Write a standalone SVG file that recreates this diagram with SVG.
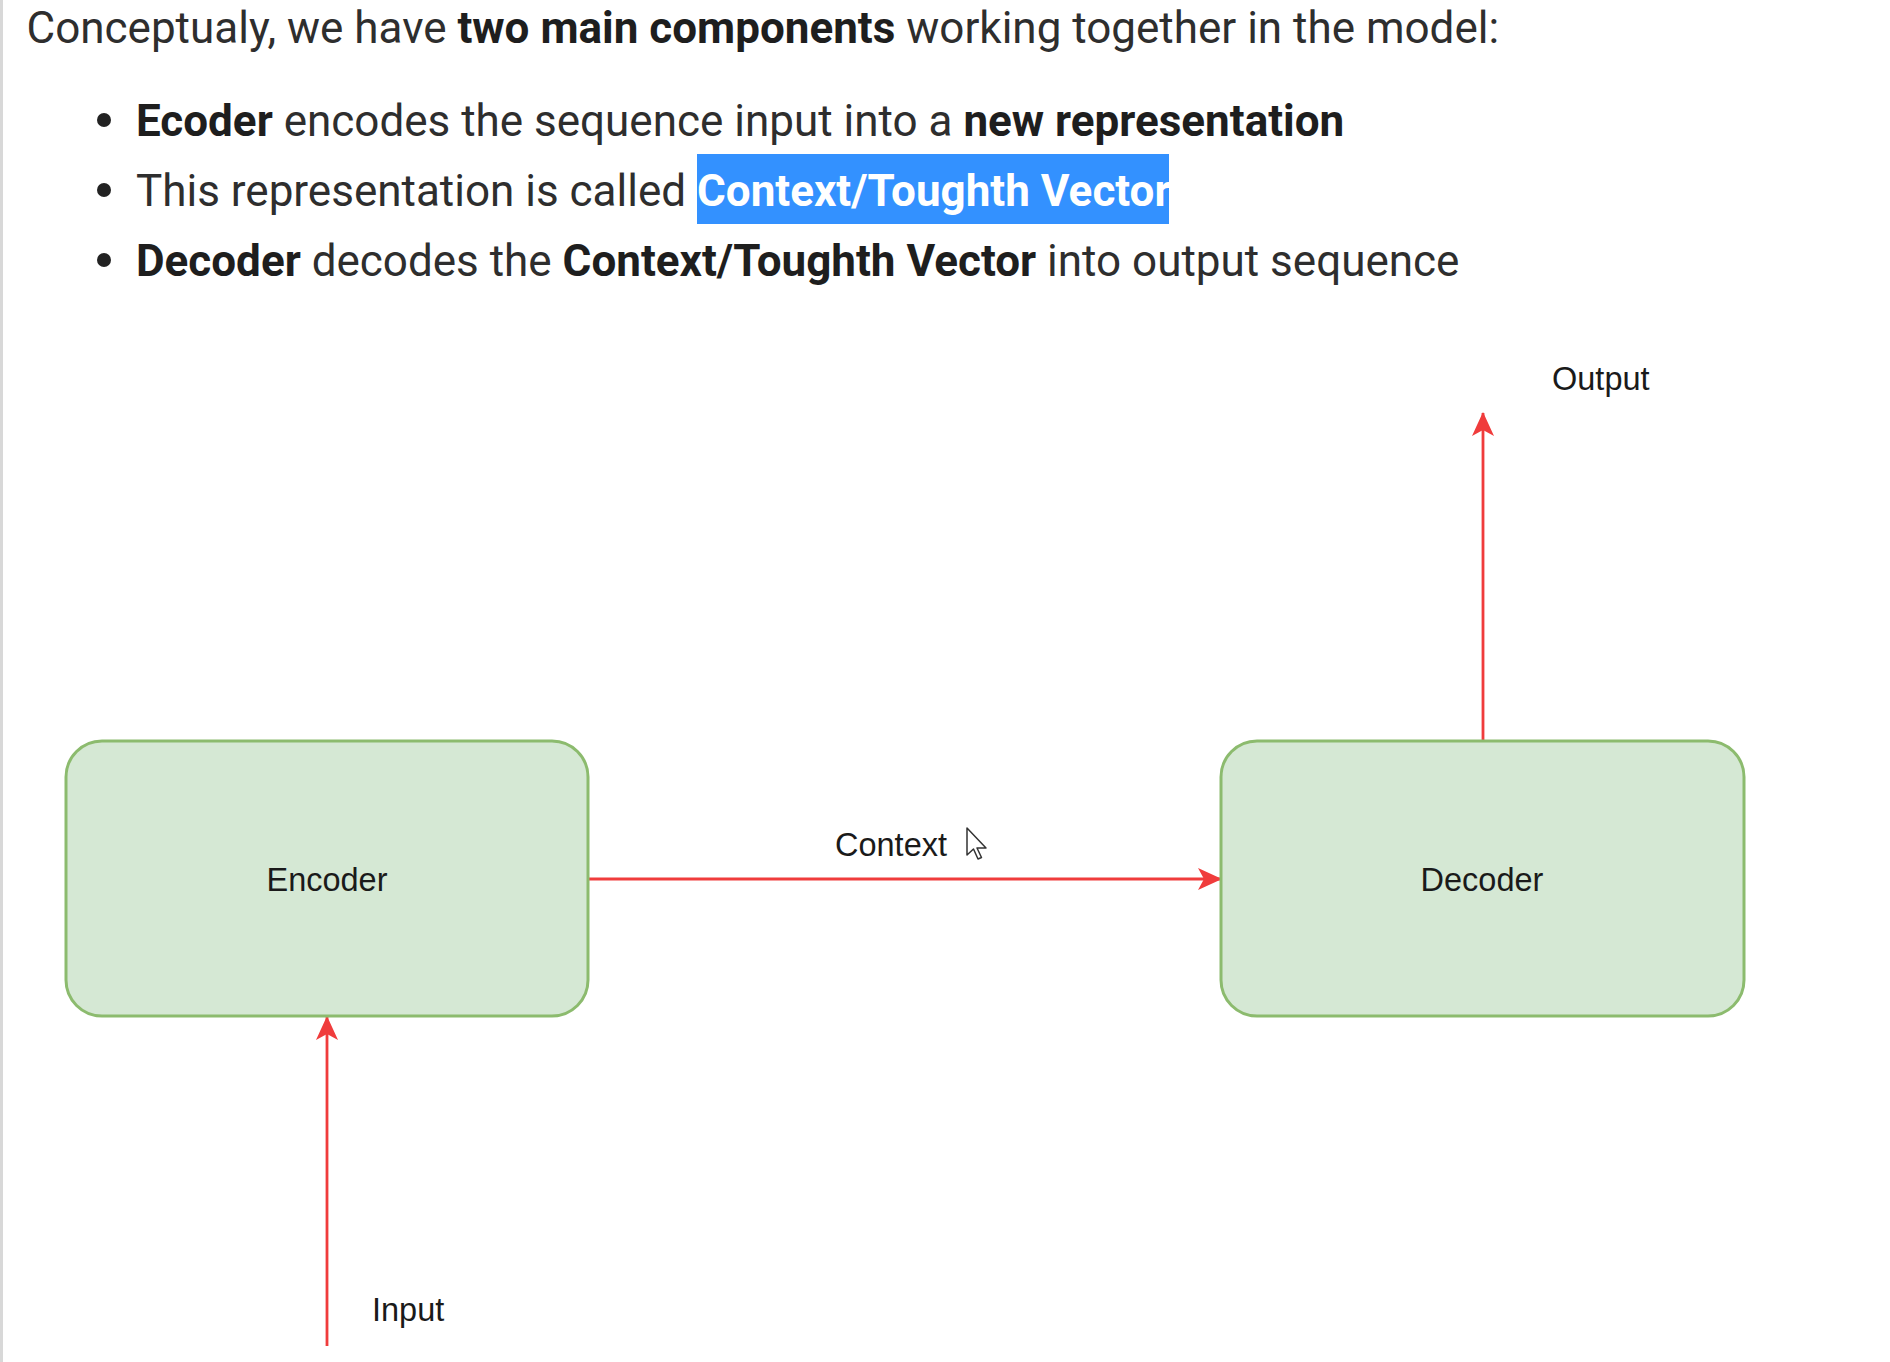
<svg xmlns="http://www.w3.org/2000/svg" width="1890" height="1362" viewBox="0 0 1890 1362">
<style>
.doc{font-family:Roboto,"Liberation Sans",sans-serif;font-size:44px;fill:#2e2e2e}
.b{font-weight:bold;fill:#1e1e1e}
.lbl{font-family:"Liberation Sans",Arial,sans-serif;font-size:32.5px;fill:#1a1a1a}
.box{fill:#d5e8d4;stroke:#8cbb6e;stroke-width:3}
.edge{stroke:#f03c3c;stroke-width:2.8;fill:none}
</style>
<defs>
<marker id="arr" viewBox="0 0 24 22" refX="23" refY="11" markerWidth="24" markerHeight="22" markerUnits="userSpaceOnUse" orient="auto">
<path d="M0,0 L24,11 L0,22 L6,11 Z" fill="#f03c3c"/>
</marker>
</defs>
<rect x="0" y="0" width="1890" height="1362" fill="#ffffff"/>
<line x1="1.5" y1="0" x2="1.5" y2="1362" stroke="#d8d8d8" stroke-width="3"/>
<g id="header">
<text class="doc" x="26.5" y="43">Conceptualy, we have <tspan class="b">two main components</tspan> working together in the model:</text>
<circle cx="104" cy="120" r="7" fill="#222"/>
<text class="doc" x="136" y="136"><tspan class="b">Ecoder</tspan> encodes the sequence input into a <tspan class="b">new representation</tspan></text>
<circle cx="104" cy="190" r="7" fill="#222"/>
<rect x="697" y="154" width="472" height="70" fill="#3391ff"/>
<text class="doc" x="136" y="206">This representation is called <tspan class="b" style="fill:#ffffff">Context/Toughth Vector</tspan></text>
<circle cx="104" cy="260" r="7" fill="#222"/>
<text class="doc" x="136" y="276"><tspan class="b">Decoder</tspan> decodes the <tspan class="b">Context/Toughth Vector</tspan> into output sequence</text>
</g>
<g id="connectors">
<line class="edge" x1="588" y1="879" x2="1221" y2="879" marker-end="url(#arr)"/>
<line class="edge" x1="1483" y1="741" x2="1483" y2="413" marker-end="url(#arr)"/>
<line class="edge" x1="327" y1="1346" x2="327" y2="1017" marker-end="url(#arr)"/>
<text class="lbl" x="891" y="856" text-anchor="middle">Context</text>
<text class="lbl" x="1552" y="390">Output</text>
<text class="lbl" x="372" y="1321">Input</text>
</g>
<g id="encoder">
<rect class="box" x="66" y="741" width="522" height="275" rx="36" ry="36"/>
<text class="lbl" x="327" y="891" text-anchor="middle">Encoder</text>
</g>
<g id="decoder">
<rect class="box" x="1221" y="741" width="523" height="275" rx="36" ry="36"/>
<text class="lbl" x="1482" y="891" text-anchor="middle">Decoder</text>
</g>
<g id="cursor">
<path d="M967,828 L967,855 L973.5,849 L978,859 L981.5,857.5 L977,848 L986,848 Z" fill="#ffffff" stroke="#333" stroke-width="1.5" stroke-linejoin="round"/>
</g>
</svg>
